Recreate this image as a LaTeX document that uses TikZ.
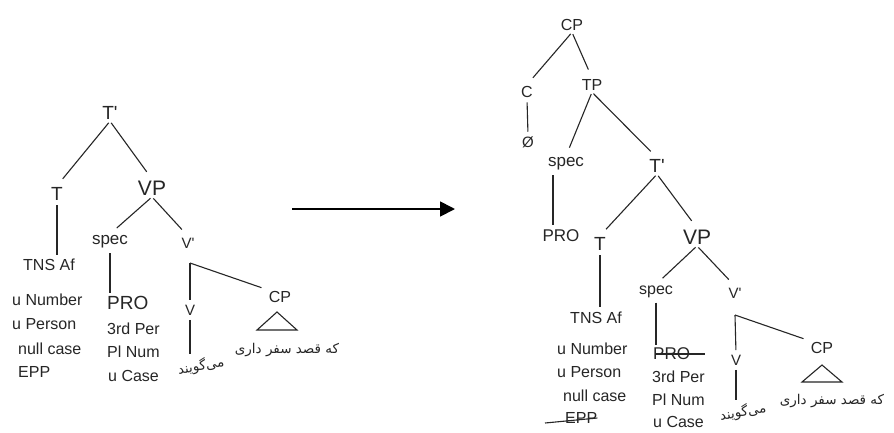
\documentclass[tikz,border=0pt]{standalone}
\usepackage{fontspec}
\setmainfont{Liberation Sans}
\newfontfamily\arabicfont[Script=Arabic]{DejaVu Sans}
\TeXXeTstate=1
\usetikzlibrary{arrows.meta}
\tikzset{
  lab/.style={inner sep=1.5pt, text=black!85},
  fs15/.style={lab, font=\fontsize{15}{18}\selectfont},
  fs16/.style={lab, font=\fontsize{16}{19}\selectfont},
  fs17/.style={lab, font=\fontsize{17}{20}\selectfont},
  fs19/.style={lab, font=\fontsize{19}{22}\selectfont},
  fs21/.style={lab, font=\fontsize{21}{24}\selectfont},
  feat/.style={fs16, anchor=west, inner sep=0pt},
  arab/.style={lab, font=\arabicfont\fontsize{13.5}{16}\selectfont},
  br/.style={draw=black!85, line width=1.1pt, shorten <=2pt, shorten >=9pt},
  vl/.style={draw=black!85, line width=1.1pt, shorten <=3pt, shorten >=3pt},
  strike/.style={draw=black!85, line width=1.1pt},
  tri/.style={draw=black!85, line width=1.1pt},
}
\newcommand{\pr}{\textquotesingle}
\begin{document}
\begin{tikzpicture}[x=1pt,y=-1pt]
\useasboundingbox (0,0) rectangle (894,432);
\fill[white] (0,0) rectangle (894,432);

% ---------- left tree ----------
\node[fs19] (lTb) at (110,113) {T\pr};
\node[fs19] (lT) at (57,194) {T};
\node[fs21] (lVP) at (152,188) {VP};
\node[fs16] (lTNS) at (49,265) {TNS Af};
\node[feat] (lf1) at (12,300) {u Number};
\node[feat] (lf2) at (12,324) {u Person};
\node[feat] (lf3) at (18,349) {null case};
\node[feat] (lf4) at (18,372) {EPP};
\node[fs17] (lspec) at (110,242) {spec};
\node[fs15] (lVb) at (188,243) {V\pr};
\node[fs19, anchor=west, inner sep=0pt] (lPRO) at (107,303) {PRO};
\node[feat] (l3) at (107,329) {3rd Per};
\node[feat] (lPl) at (107,352) {Pl Num};
\node[feat] (lCase) at (108,376) {u Case};
\node[fs15] (lV) at (190,310) {V};
\node[fs16] (lCP) at (280,297) {CP};
\node[arab] (lAr) at (287,350) {\beginR که قصد سفر داری\endR};
\node[arab, rotate=10] (lVerb) at (201,366) {\beginR می‌گویند\endR};
\coordinate (lJ) at (190,263);

\draw[br] (lTb.south) -- (lT.north);
\draw[br] (lTb.south) -- (lVP.north);
\draw[vl, shorten >=2pt] (lT.south) -- (lTNS.north -| lT.south);
\draw[br] (lVP.south) -- (lspec.north);
\draw[br] (lVP.south) -- (lVb.north);
\draw[vl] (lspec.south) -- (lPRO.north -| lspec.south);
\draw[vl, shorten <=0pt] (lJ) -- (lV.north);
\draw[vl, shorten <=0pt, shorten >=6pt] (lJ) -- (lCP.north west);
\draw[vl] (lV.south) -- (lVerb.north -| lV.south);
\draw[tri] (277,312) -- (297,330) -- (257,330) -- cycle;

% ---------- arrow ----------
\coordinate (aS) at (292,209);
\coordinate (aE) at (455,209);
\draw[line width=1.8pt, -{Triangle[length=15pt,width=15pt]}] (aS) -- (aE);

% ---------- right tree ----------
\node[fs16] (rCP) at (572,25) {CP};
\node[fs16] (rC) at (527,92) {C};
\node[fs15] (rN) at (528,142) {Ø};
\node[fs16] (rTP) at (592,85) {TP};
\node[fs17] (rspec) at (566,164) {spec};
\node[fs19] (rTb) at (657,166) {T\pr};
\node[fs17] (rPRO1) at (561,236) {PRO};
\node[fs19] (rT) at (600,244) {T};
\node[fs21] (rVP) at (697,237) {VP};
\node[fs16] (rTNS) at (596,318) {TNS Af};
\node[feat] (rf1) at (557,349) {u Number};
\node[feat] (rf2) at (557,372) {u Person};
\node[feat] (rf3) at (563,396) {null case};
\node[feat] (rf4) at (565,418) {EPP};
\node[fs16] (rspec2) at (656,292) {spec};
\node[fs15] (rVb) at (735,293) {V\pr};
\node[fs17, anchor=west, inner sep=0pt] (rPRO2) at (653,354) {PRO};
\node[feat] (r3) at (652,377) {3rd Per};
\node[feat] (rPl) at (652,400) {Pl Num};
\node[feat] (rCase) at (653,422) {u Case};
\node[fs15] (rV) at (736,360) {V};
\node[fs16] (rCP2) at (822,348) {CP};
\node[arab] (rAr) at (832,401) {\beginR که قصد سفر داری\endR};
\node[arab, rotate=10] (rVerb) at (743,412) {\beginR می‌گویند\endR};
\coordinate (rJ) at (735,315);

\draw[br] (rCP.south) -- (rC.north);
\draw[br] (rCP.south) -- (rTP.north);
\draw[vl] (rC.south) -- (rN.north);
\draw[br] (rTP.south) -- (rspec.north);
\draw[br] (rTP.south) -- (rTb.north);
\draw[vl] ([xshift=-13pt]rspec.south) -- ([xshift=-8pt]rPRO1.north);
\draw[br] (rTb.south) -- (rT.north);
\draw[br] (rTb.south) -- (rVP.north);
\draw[vl] (rT.south) -- (rTNS.north -| rT.south);
\draw[br] (rVP.south) -- (rspec2.north);
\draw[br] (rVP.south) -- (rVb.north);
\draw[vl] (rspec2.south) -- (rPRO2.north -| rspec2.south);
\draw[vl, shorten <=0pt] (rJ) -- (rV.north);
\draw[vl, shorten <=0pt, shorten >=6pt] (rJ) -- (rCP2.north west);
\draw[vl] (rV.south) -- (rVerb.north -| rV.south);
\draw[tri] (822,365) -- (842,382) -- (802,382) -- cycle;
% strike-through lines
\draw[strike] ([xshift=2pt]rPRO2.west) -- ([xshift=15pt]rPRO2.east);
\draw[strike] ([xshift=-20pt,yshift=-5pt]rf4.west) -- ([xshift=0pt]rf4.east);
\end{tikzpicture}
\end{document}
